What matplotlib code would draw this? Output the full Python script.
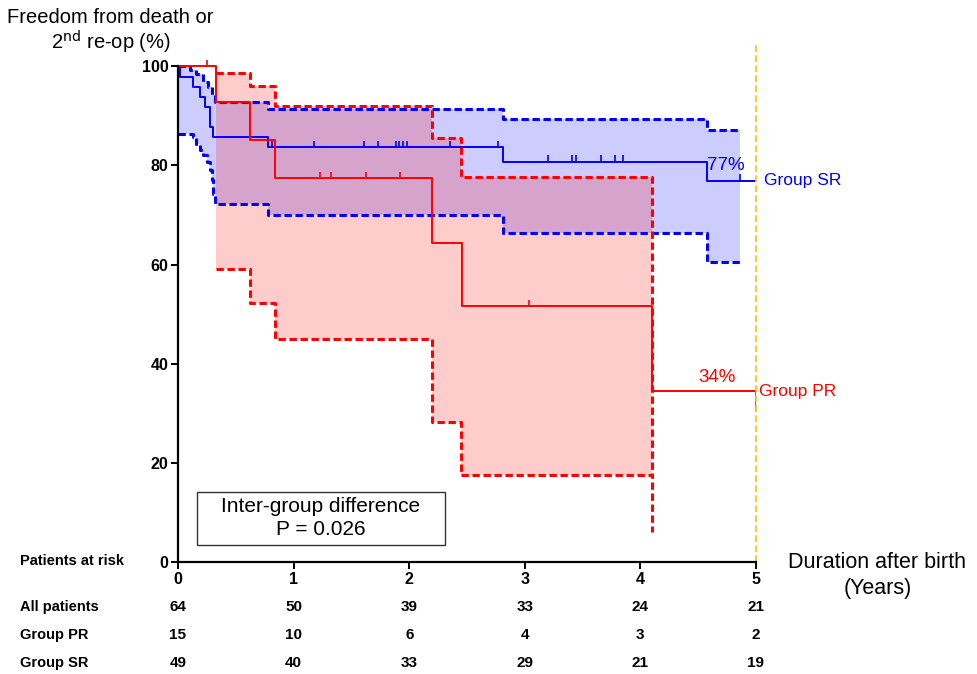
import numpy as np
import matplotlib
matplotlib.use("Agg")
import matplotlib.pyplot as plt
from matplotlib.patches import Rectangle
import matplotlib.transforms as mtransforms

plt.rcParams['font.family'] = ['Liberation Sans', 'DejaVu Sans']

# Group PR (Kaplan-Meier + 95% CI)
pr_t = [0, 0.33, 0.62, 0.84, 2.20, 2.46, 4.10, 5.0]
pr_s = [100, 92.8, 85.1, 77.4, 64.4, 51.6, 34.4, 34.4]
pr_ci_t = [0.33, 0.62, 0.84, 2.20, 2.45, 4.10]
pr_up = [98.7, 96.0, 92.0, 85.6, 77.7, 17.5]
pr_lo = [59.0, 52.3, 44.9, 28.3, 17.5, 6.1]
pr_cens_t = [0.25, 1.23, 1.32, 1.63, 1.92, 3.04]
pr_cens_s = [100, 77.4, 77.4, 77.4, 77.4, 51.6]

# Group SR
sr_t = [0, 0.02, 0.13, 0.19, 0.23, 0.277, 0.305, 0.78, 2.81, 4.58, 5.0]
sr_s = [100, 97.9, 95.8, 93.8, 91.8, 87.8, 85.7, 83.6, 80.7, 76.9, 76.9]
sr_ci_t = [0, 0.10, 0.13, 0.16, 0.19, 0.22, 0.25, 0.26, 0.28, 0.29, 0.305, 0.32, 0.78, 2.81, 4.58, 4.86]
sr_up = [100, 99.2, 99.2, 98.5, 98.5, 96.8, 96.8, 95.8, 95.8, 94.2, 94.2, 92.8, 91.3, 89.4, 87.1, 87.1]
sr_lo = [86.3, 86.3, 85.8, 84.4, 83.1, 82.1, 80.7, 80.7, 79.0, 77.0, 74.3, 72.3, 70.0, 66.3, 60.5, 60.5]
sr_cens_t = [0.81, 1.18, 1.61, 1.73, 1.89, 1.91, 1.95, 1.98, 2.35, 2.77,
             3.20, 3.41, 3.44, 3.66, 3.78, 3.85, 4.86]
sr_cens_s = [83.6] * 10 + [80.7] * 6 + [76.9]

# patients at risk
risk_years = [0, 1, 2, 3, 4, 5]
risk_rows = ['All patients', 'Group PR', 'Group SR']
risk_all = [64, 50, 39, 33, 24, 21]
risk_pr = [15, 10, 6, 4, 3, 2]
risk_sr = [49, 40, 33, 29, 21, 19]

blue = '#0000FF'
red = '#FF0000'

fig = plt.figure(figsize=(9.78, 6.74), dpi=100)
ax = fig.add_axes([0.182, 0.166, 0.591, 0.769])

# CI bands
ax.fill_between(sr_ci_t, sr_lo, sr_up, step='post', color=blue, alpha=0.2, lw=0)
ax.fill_between(pr_ci_t, pr_lo, pr_up, step='post', color=red, alpha=0.2, lw=0)

dash = (0, (2.4, 1.2))
ax.plot(sr_ci_t, sr_up, drawstyle='steps-post', color=blue, lw=2.2, ls=dash)
ax.plot(sr_ci_t, sr_lo, drawstyle='steps-post', color=blue, lw=2.2, ls=dash)
ax.plot(pr_ci_t, pr_up, drawstyle='steps-post', color=red, lw=2.2, ls=dash)
ax.plot(pr_ci_t, pr_lo, drawstyle='steps-post', color=red, lw=2.2, ls=dash)

# survival curves
ax.plot(sr_t, sr_s, drawstyle='steps-post', color=blue, lw=1.4)
ax.plot(pr_t, pr_s, drawstyle='steps-post', color=red, lw=1.4)
ax.vlines(sr_cens_t, sr_cens_s, np.array(sr_cens_s) + 1.3, color=blue, lw=1.2)
ax.vlines(pr_cens_t, pr_cens_s, np.array(pr_cens_s) + 1.3, color=red, lw=1.2)
ax.vlines(5.0, 30.4, 34.4, color=red, lw=1.2)

# 5-year line
ax.axvline(5.0, ymin=0, ymax=1, color='#FFC000', lw=1.2, ls=(0, (4, 2)), clip_on=False)

ax.text(4.74, 78.2, '77%', color=blue, fontsize=13.5, ha='center', va='bottom')
ax.text(5.07, 76.9, 'Group SR', color=blue, fontsize=12.5, ha='left', va='center')
ax.text(4.66, 35.5, '34%', color=red, fontsize=13.5, ha='center', va='bottom')
ax.text(5.03, 34.4, 'Group PR', color=red, fontsize=12.5, ha='left', va='center')

ax.add_patch(Rectangle((0.164, 3.4), 2.146, 10.7, fill=False, ec='#333333', lw=1.0))
ax.text(1.237, 11.2, 'Inter-group difference', fontsize=15, ha='center', va='center')
ax.text(1.237, 6.5, 'P = 0.026', fontsize=15, ha='center', va='center')

ax.set_xlim(0, 5)
ax.set_ylim(0, 104.5)
ax.spines['top'].set_visible(False)
ax.spines['right'].set_visible(False)
ax.spines['left'].set_bounds(0, 100)
ax.spines['left'].set_linewidth(1.6)
ax.spines['bottom'].set_linewidth(1.6)
ax.set_yticks([0, 20, 40, 60, 80, 100])
ax.set_xticks(risk_years)
ax.tick_params(direction='out', length=5, width=1.4, pad=2)
for lbl in ax.get_yticklabels() + ax.get_xticklabels():
    lbl.set_fontweight('bold')
    lbl.set_fontsize(11.5)

fig.text(0.113, 0.974, 'Freedom from death or', fontsize=14.5, ha='center', va='center')
fig.text(0.113, 0.937, r'2$^{\mathrm{nd}}$ re-op (%)', fontsize=14.5, ha='center', va='center')
fig.text(0.897, 0.165, 'Duration after birth', fontsize=15.5, ha='center', va='center')
fig.text(0.897, 0.127, '(Years)', fontsize=15.5, ha='center', va='center')

fig.text(0.0205, 0.168, 'Patients at risk', fontsize=10.5, fontweight='bold', ha='left', va='center')
trans = mtransforms.blended_transform_factory(ax.transData, fig.transFigure)
row_y = [0.0994, 0.0579, 0.0163]
for name, vals, yy in zip(risk_rows, [risk_all, risk_pr, risk_sr], row_y):
    fig.text(0.0205, yy, name, fontsize=10.5, fontweight='bold', ha='left', va='center')
    for xv, v in zip(risk_years, vals):
        ax.text(xv, yy, str(v), transform=trans, fontsize=11, fontweight='bold',
                ha='center', va='center')

fig.savefig('out.png', dpi=100)
